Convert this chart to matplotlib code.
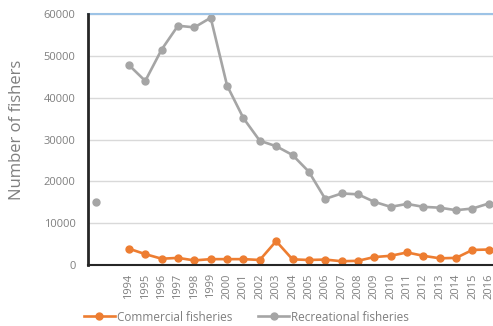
import numpy as np
import matplotlib
matplotlib.use("Agg")
import matplotlib.pyplot as plt

plt.rcParams['font.family'] = ['Open Sans', 'DejaVu Sans']

# --- данные ---
years = ["", ""] + [str(y) for y in range(1994, 2017)]
commercial = [np.nan, np.nan,
              3900, 2600, 1500, 1700, 1100, 1400, 1400, 1400, 1200, 5700,
              1350, 1200, 1300, 900, 1000, 1900, 2200, 3000, 2200, 1600,
              1700, 3600, 3700]
recreational = [15000, np.nan,
                47800, 44000, 51500, 57200, 56800, 59100, 42900, 35100, 29700, 28400,
                26300, 22300, 15800, 17100, 16900, 15100, 13900, 14600, 13900, 13700,
                13100, 13500, 14700]

orange = '#ED7D31'
grey = '#A5A5A5'
txt = '#7F7F7F'

fig = plt.figure(figsize=(4.93, 3.26), dpi=100)
ax = fig.add_axes([88 / 493, 61 / 326, 409 / 493, 251 / 326])

x = np.arange(len(years))
ax.plot(x, commercial, color=orange, lw=1.9, marker='o', ms=5, label='Commercial fisheries')
ax.plot(x, recreational, color=grey, lw=1.9, marker='o', ms=5, label='Recreational fisheries')

ax.set_xlim(-0.5, len(years) - 0.5)
ax.set_ylim(0, 60000)
ax.set_yticks(np.arange(0, 60001, 10000))
ax.set_xticks(x)
ax.set_xticklabels(years, rotation=90)
ax.tick_params(axis='x', length=0, labelsize=8, colors=txt, pad=6)
ax.tick_params(axis='y', length=0, labelsize=8, colors=txt, pad=9)

ax.grid(axis='y', color='#D9D9D9', lw=1)
ax.set_axisbelow(True)
for s in ['right', 'top']:
    ax.spines[s].set_visible(False)
ax.axhline(60000, color='#9DC3E6', lw=1.5, clip_on=False)
ax.spines['left'].set_color('#262626')
ax.spines['left'].set_linewidth(2)
ax.spines['bottom'].set_color('#262626')
ax.spines['bottom'].set_linewidth(1.5)

ax.set_ylabel('Number of fishers', fontsize=12, color=txt)
ax.yaxis.set_label_coords(-0.155, 0.54)

fig.legend(loc='lower center', bbox_to_anchor=(0.5, -0.025), ncol=2, frameon=False,
           fontsize=8.5, labelcolor=txt, handlelength=2.6, handletextpad=0.2,
           columnspacing=2.2)

fig.savefig('out.png', dpi=100)
